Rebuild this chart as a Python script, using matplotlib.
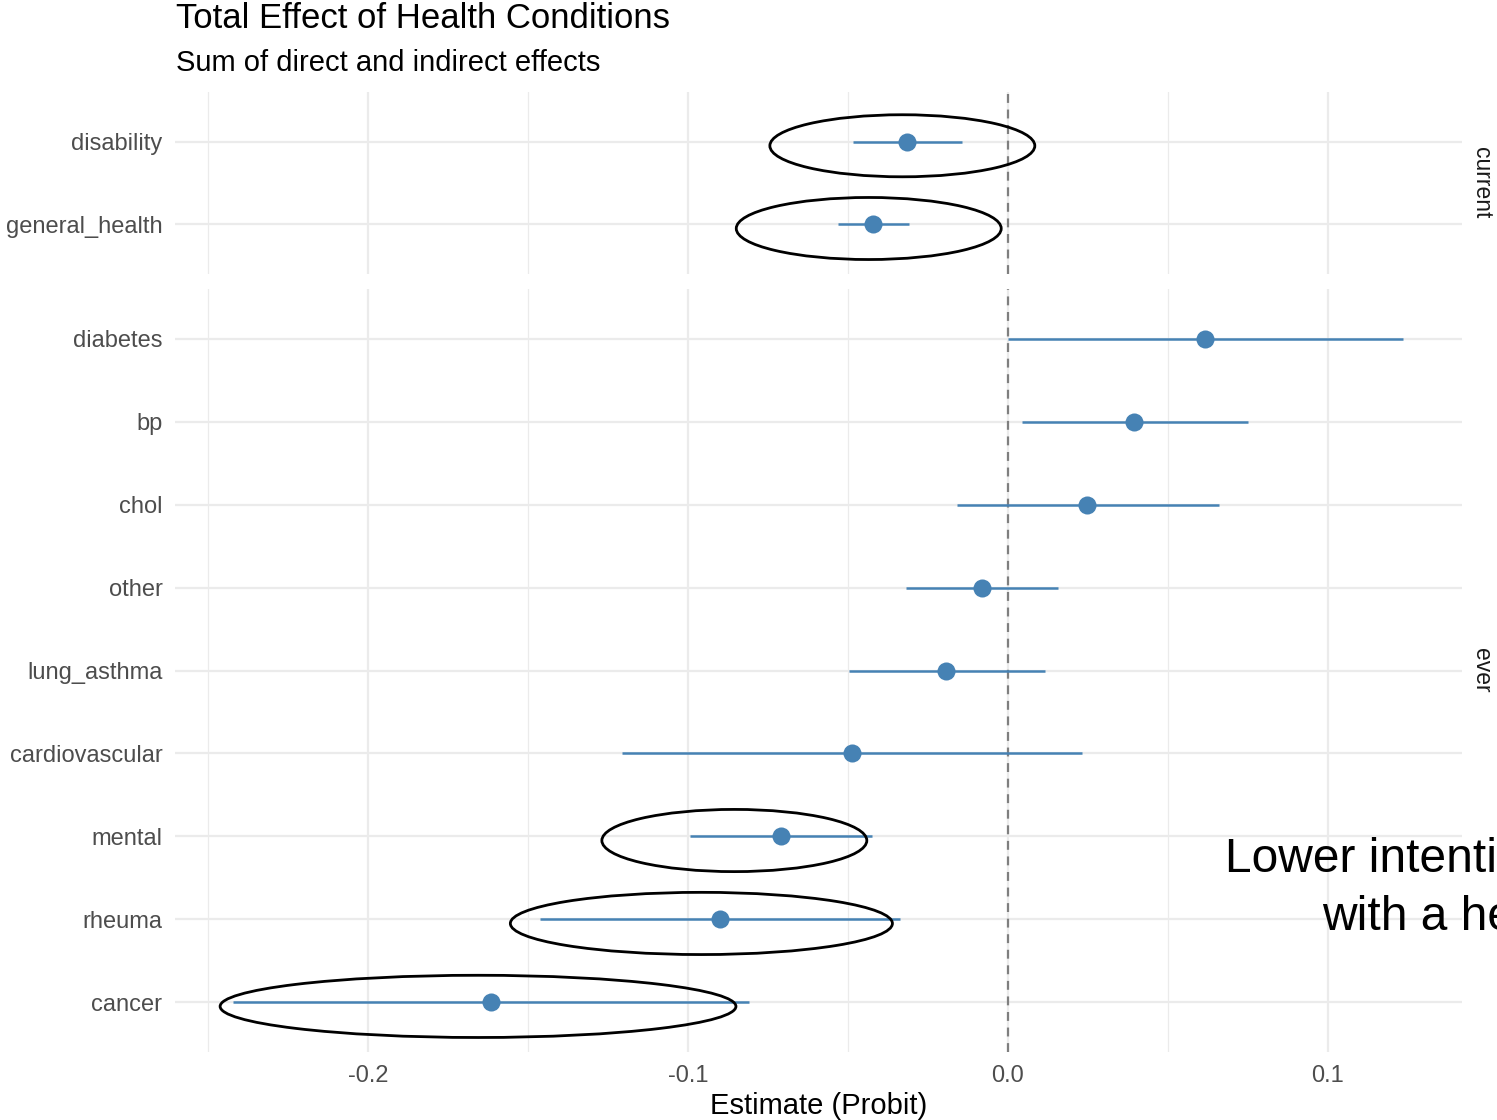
import numpy as np
import matplotlib.pyplot as plt
from matplotlib.patches import Ellipse

plt.rcParams['font.family'] = ['Liberation Sans', 'DejaVu Sans']

# facet "current"
current_labels = ['disability', 'general_health']
current_est = [-0.0316, -0.0422]
current_lo = [-0.0484, -0.0531]
current_hi = [-0.0144, -0.0309]

# facet "ever"
ever_labels = ['diabetes', 'bp', 'chol', 'other', 'lung_asthma',
               'cardiovascular', 'mental', 'rheuma', 'cancer']
ever_est = [0.0616, 0.0394, 0.0247, -0.0081, -0.0194, -0.0488, -0.0709, -0.0900, -0.1616]
ever_lo = [0.0000, 0.0044, -0.0159, -0.0319, -0.0497, -0.1206, -0.0994, -0.1463, -0.2422]
ever_hi = [0.1234, 0.0750, 0.0659, 0.0156, 0.0116, 0.0231, -0.0425, -0.0338, -0.0809]

# highlighted rows: (label, x centre, width in data units)
highlights = [('disability', -0.0330, 0.0828),
              ('general_health', -0.0435, 0.0828),
              ('mental', -0.0855, 0.0828),
              ('rheuma', -0.0958, 0.1194),
              ('cancer', -0.1656, 0.1612)]

xticks = [-0.2, -0.1, 0.0, 0.1]
xminor = [-0.25, -0.15, -0.05, 0.05]
xlim = (-0.2603, 0.1419)

color = '#4682B4'
grid = '#EBEBEB'

fig = plt.figure(figsize=(14.97, 11.2), dpi=100)
W, H = 1497, 1120
left, right = 175 / W, 1462 / W
ax_top = fig.add_axes([left, 1 - 274 / H, right - left, 182 / H])
ax_bot = fig.add_axes([left, 1 - 1052 / H, right - left, 763 / H])


def draw_panel(ax, labels, est, lo, hi, strip):
    n = len(labels)
    y = np.arange(n)[::-1] + 1
    for v in xticks:
        ax.axvline(v, color=grid, lw=1.6, zorder=0)
    for v in xminor:
        ax.axvline(v, color=grid, lw=0.9, zorder=0)
    for yy in y:
        ax.axhline(yy, color=grid, lw=1.6, zorder=0)
    ax.axvline(0, color='#7F7F7F', lw=1.6, ls=(0, (4, 3)), zorder=1)
    ax.hlines(y, lo, hi, color=color, lw=1.8, zorder=2)
    ax.plot(est, y, 'o', color=color, ms=13, mec='none', zorder=3)
    ax.set_xlim(*xlim)
    ax.set_ylim(0.4, n + 0.6)
    ax.set_yticks(y)
    ax.set_yticklabels(labels)
    for s in ax.spines.values():
        s.set_visible(False)
    ax.tick_params(length=0, labelsize=17, labelcolor='#4D4D4D', pad=9)
    ax.text(1.006, 0.5, strip, transform=ax.transAxes, rotation=-90,
            va='center', ha='left', fontsize=16.5, color='#1A1A1A')
    for lab, cx, w in highlights:
        if lab in labels:
            yy = y[labels.index(lab)] - 0.05
            ax.add_patch(Ellipse((cx, yy), w, 0.75, fill=False, ec='black',
                                 lw=2, zorder=4, clip_on=False))
    return y


draw_panel(ax_top, current_labels, current_est, current_lo, current_hi, 'current')
ax_top.set_xticks([])
draw_panel(ax_bot, ever_labels, ever_est, ever_lo, ever_hi, 'ever')
ax_bot.set_xticks(xticks)
ax_bot.set_xticklabels(['-0.2', '-0.1', '0.0', '0.1'])
ax_bot.tick_params(axis='x', pad=9)
ax_bot.set_xlabel('Estimate (Probit)', fontsize=21, labelpad=4)

fig.text(176 / W, 1 - 19 / H, 'Total Effect of Health Conditions', fontsize=25,
         va='center', ha='left')
fig.text(176 / W, 1 - 63 / H, 'Sum of direct and indirect effects', fontsize=21,
         va='center', ha='left')

# callout text runs past the right edge, as in the source image
fig.text(1225 / W, 1 - 859 / H, 'Lower intention', fontsize=34.5, va='center', ha='left')
fig.text(1322 / W, 1 - 917 / H, 'with a health condition', fontsize=34.5, va='center', ha='left')

fig.savefig('out.png', dpi=100)
